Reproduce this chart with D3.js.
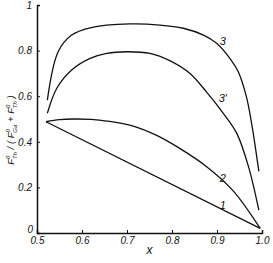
<!DOCTYPE html>
<html>
<head>
<meta charset="utf-8">
<script src="https://cdn.jsdelivr.net/npm/d3@7"></script>
<style>
  body { margin: 0; background: #fff; }
  text { font-family: "Liberation Sans", Arial, sans-serif; font-style: italic; fill: #111; }
</style>
</head>
<body>
<script>
// Data
var curve1X = [0.52, 0.996];
var curve1Y = [0.488, 0.02];

var curve2X = [0.52, 0.55, 0.581, 0.62, 0.655, 0.714, 0.766, 0.818, 0.877, 0.936, 0.996];
var curve2Y = [0.488, 0.497, 0.500, 0.498, 0.491, 0.469, 0.428, 0.370, 0.291, 0.185, 0.02];

var curve3X = [0.523, 0.547, 0.577, 0.618, 0.707, 0.773, 0.825, 0.870, 0.899, 0.929, 0.947, 0.965, 0.977, 0.993];
var curve3Y = [0.583, 0.795, 0.868, 0.900, 0.917, 0.912, 0.898, 0.868, 0.832, 0.765, 0.708, 0.600, 0.480, 0.27];

var curve3pX = [0.523, 0.544, 0.577, 0.618, 0.655, 0.699, 0.751, 0.796, 0.840, 0.877, 0.914, 0.944, 0.970, 0.993];
var curve3pY = [0.525, 0.635, 0.715, 0.766, 0.788, 0.795, 0.788, 0.755, 0.700, 0.618, 0.525, 0.437, 0.291, 0.10];

var curveNames = ["1", "2", "3", "3\u2032"];
var labelX = [0.913, 0.913, 0.913, 0.913];
var labelY = [0.12, 0.24, 0.84, 0.59];

var xTicks = [0.5, 0.6, 0.7, 0.8, 0.9, 1.0];
var yTicks = [0, 0.2, 0.4, 0.6, 0.8, 1];

// Skalaer
var width = 273, height = 263;
var xScale = d3.scaleLinear().domain([0.5, 1.0]).range([37, 262]);
var yScale = d3.scaleLinear().domain([0, 1]).range([233, 5]);

var svg = d3.select("body").append("svg").attr("width", width).attr("height", height);

// Kurver
var series = [
  {x: curve1X, y: curve1Y},
  {x: curve2X, y: curve2Y},
  {x: curve3X, y: curve3Y},
  {x: curve3pX, y: curve3pY}
];
var line = d3.line()
  .x(function(d) { return xScale(d[0]); })
  .y(function(d) { return yScale(d[1]); })
  .curve(d3.curveCatmullRom.alpha(0.5));

svg.selectAll(".curve")
  .data(series)
  .enter()
  .append("path")
  .attr("class", "curve")
  .attr("d", function(s) { return line(d3.zip(s.x, s.y)); })
  .attr("fill", "none")
  .attr("stroke", "#111")
  .attr("stroke-width", 1.3);

svg.selectAll(".clabel")
  .data(curveNames)
  .enter()
  .append("text")
  .attr("class", "clabel")
  .attr("x", function(d, i) { return xScale(labelX[i]); })
  .attr("y", function(d, i) { return yScale(labelY[i]); })
  .attr("text-anchor", "middle")
  .attr("dy", "0.35em")
  .attr("font-size", 11)
  .text(function(d) { return d; });

// Akser
var xAxis = d3.axisBottom(xScale).tickValues(xTicks).tickSize(-3).tickPadding(5)
  .tickFormat(function(d) { return d3.format(".1f")(d); });
var yAxis = d3.axisLeft(yScale).tickValues(yTicks).tickSize(-3).tickPadding(5)
  .tickFormat(function(d) { return d === 0 || d === 1 ? d : d3.format(".1f")(d); });

var gx = svg.append("g").attr("transform", "translate(0,233)").call(xAxis);
var gy = svg.append("g").attr("transform", "translate(37,0)").call(yAxis);

[gx, gy].forEach(function(g) {
  g.select(".domain").attr("stroke", "#111").attr("stroke-width", 1.5);
  g.selectAll(".tick line").attr("stroke", "#111").attr("stroke-width", 1);
  g.selectAll(".tick text").attr("font-size", 10).attr("font-family", "Liberation Sans, Arial, sans-serif")
    .attr("font-style", "italic").attr("fill", "#111");
});
// "0" sits in the corner
gy.selectAll(".tick text").filter(function(d) { return d === 0; }).attr("dy", "-0.1em").attr("x", -4);
gx.selectAll(".tick text").attr("dy", "0.6em");

// Aksetitler
svg.append("text")
  .attr("x", xScale(0.75))
  .attr("y", 254)
  .attr("text-anchor", "middle")
  .attr("font-size", 12)
  .attr("font-family", "DejaVu Serif, serif")
  .text("x");

var yl = svg.append("text")
  .attr("transform", "translate(14,130) rotate(-90)")
  .attr("text-anchor", "middle")
  .attr("font-size", 9.5);
function term(sel, base, sub) {
  sel.append("tspan").text(base);
  sel.append("tspan").attr("font-size", 6).attr("dy", -4).text("0");
  sel.append("tspan").attr("font-size", 6).attr("dx", -3.5).attr("dy", 7).text(sub);
  sel.append("tspan").attr("dy", -3).text(" ");
}
term(yl, "F", "Th");
yl.append("tspan").text("/ ( ");
term(yl, "F", "Ga");
yl.append("tspan").text("+ ");
term(yl, "F", "Th");
yl.append("tspan").text(")");
</script>
</body>
</html>
